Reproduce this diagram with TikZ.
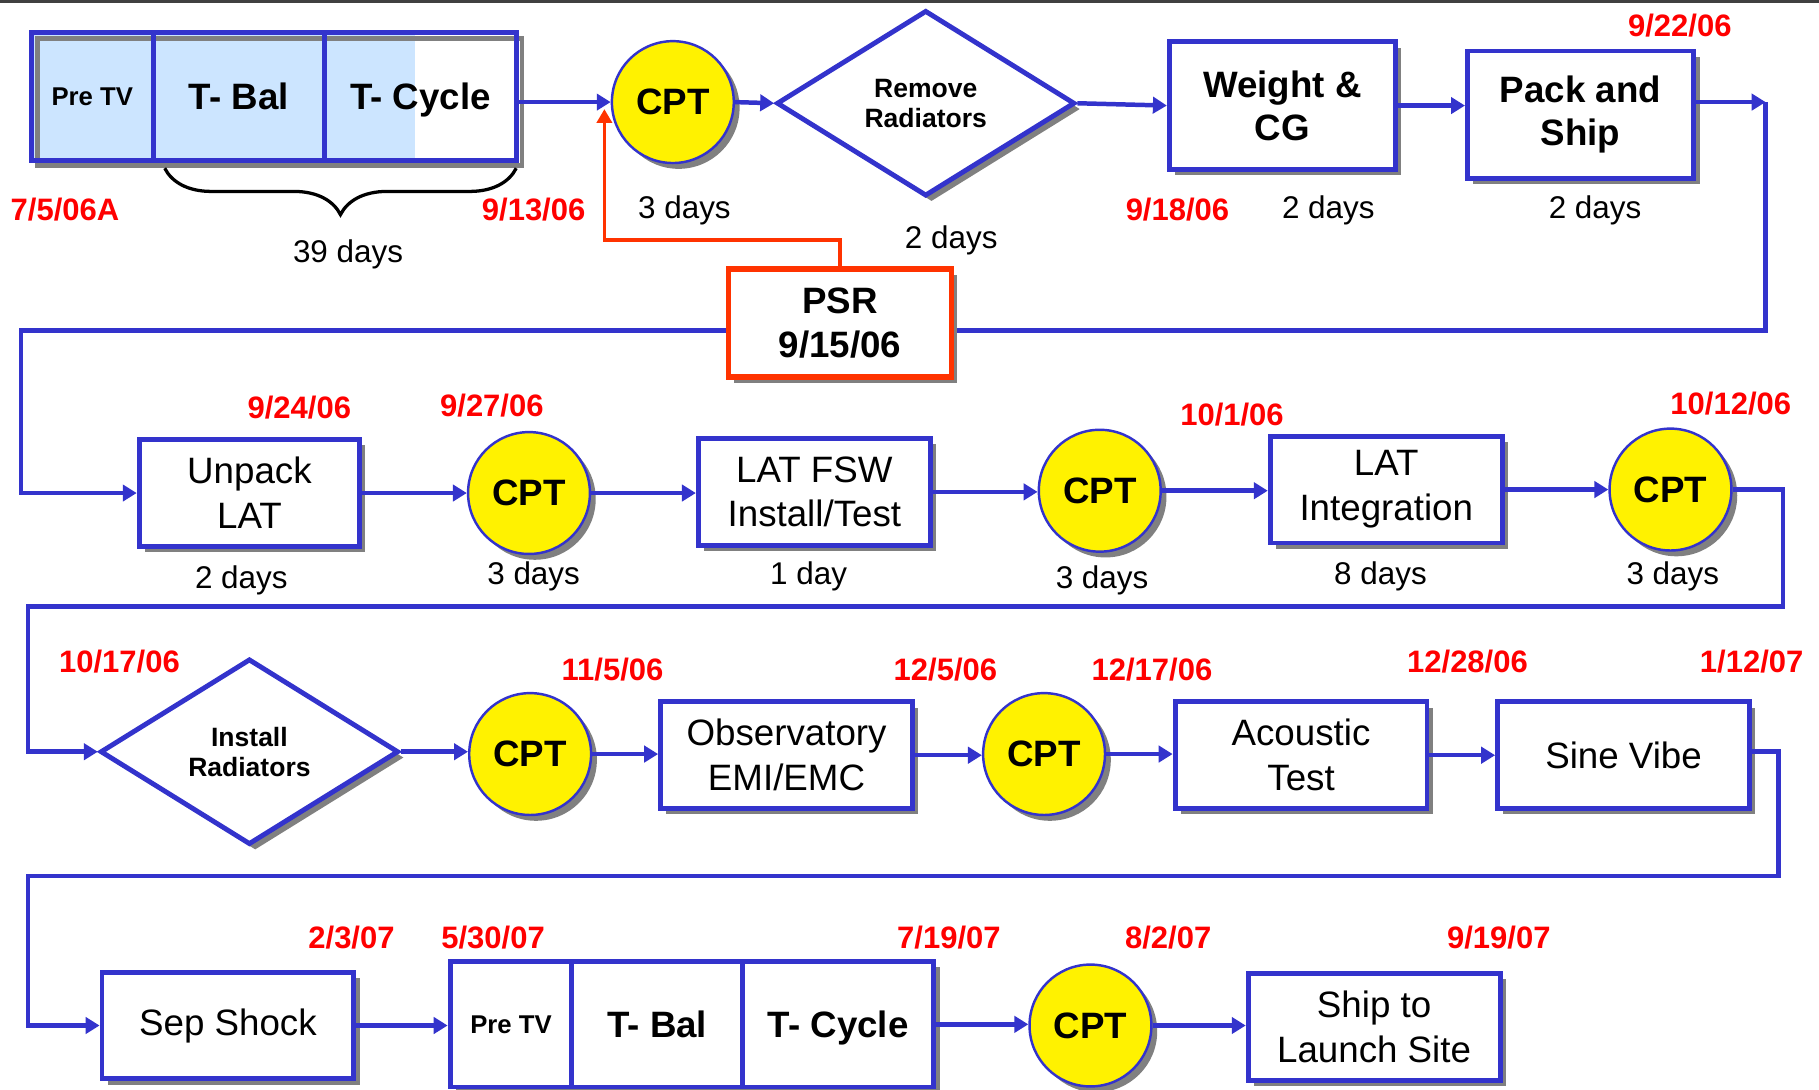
\documentclass[tikz,border=0pt]{standalone}
\usepackage{fontspec}
\setmainfont{Liberation Sans}
\usetikzlibrary{shapes.geometric,arrows.meta,shadows,decorations.pathreplacing}

\definecolor{bleu}{RGB}{51,51,204}
\definecolor{bleuclair}{RGB}{204,229,255}
\definecolor{rougepsr}{RGB}{255,51,0}
\definecolor{gris}{RGB}{128,128,128}

\tikzset{
  ombre/.style={drop shadow={shadow xshift=0.05cm, shadow yshift=-0.05cm, fill=gris, opacity=1}},
  tache/.style={draw=bleu, line width=1.2pt, fill=white, align=center, inner sep=1pt,
    minimum width=2.17cm, minimum height=0.92cm, font=\fontsize{9}{11}\selectfont, ombre},
  tachegras/.style={tache, minimum width=1.95cm, minimum height=1.1cm,
    font=\bfseries\fontsize{9}{10.6}\selectfont},
  essai/.style={draw=bleu, line width=1.2pt, minimum height=1.1cm, inner sep=0pt,
    text height=6.3pt, text depth=0pt, font=\bfseries\fontsize{9}{11}\selectfont},
  petit/.style={text height=4.6pt, font=\bfseries\fontsize{6.3}{7.5}\selectfont},
  cpt/.style={circle, draw=bleu, line width=0.6pt, fill=yellow, minimum size=1.05cm,
    inner sep=0pt, font=\bfseries\fontsize{9}{11}\selectfont, ombre},
  losange/.style={diamond, draw=bleu, line width=1.2pt, fill=white, minimum width=2.57cm,
    minimum height=1.6cm, inner sep=0pt, align=center,
    font=\bfseries\fontsize{6.5}{7.4}\selectfont, ombre},
  psrbox/.style={draw=rougepsr, line width=1.3pt, fill=white, align=center,
    minimum width=1.92cm, minimum height=0.93cm, font=\bfseries\fontsize{9}{11}\selectfont, ombre},
  fleche/.style={draw=bleu, line width=1.1pt, -{Triangle[length=0.12cm, width=0.14cm]}},
  flecherouge/.style={draw=rougepsr, line width=0.9pt, -{Triangle[length=0.12cm, width=0.13cm]}},
  date/.style={text=red, font=\bfseries\fontsize{7.6}{9}\selectfont},
  duree/.style={font=\fontsize{7.7}{9}\selectfont}
}

\begin{document}
\begin{tikzpicture}[x=0.01cm, y=-0.01cm]
  \useasboundingbox (0,0) rectangle (1568,939);
  \draw[black!75, line width=0.7pt] (0,1.5) -- (1568,1.5);

  % Ligne 1
  \fill[white] (27,28) rectangle (445,138);
  \fill[bleuclair] (27,28) rectangle (358,138);
  \draw[gris, line width=1.2pt] (32,33) rectangle (450,143);
  \node[essai, minimum width=1.05cm, petit] (pretvA) at (79.5,83) {Pre TV};
  \node[essai, minimum width=1.48cm] (tbalA) at (206,83) {T- Bal};
  \node[essai, minimum width=1.65cm] (tcycleA) at (362.5,83) {T- Cycle};
  \draw[decorate, decoration={brace, mirror, amplitude=0.4cm}, line width=0.8pt] (142,145) -- (445,145);

  \node[cpt] (cptA) at (580,88) {CPT};
  \node[losange] (retrait) at (798,89) {Remove\\Radiators};
  \node[tachegras] (pesee) at (1105.5,91) {Weight \&\\CG};
  \node[tachegras] (emballage) at (1362.5,99) {Pack and\\Ship};

  \node[date] (dA) at (56,181) {7/5/06A};
  \node[date] (dB) at (460,181) {9/13/06};
  \node[date] (dC) at (1015,181) {9/18/06};
  \node[date] (dD) at (1448,22) {9/22/06};
  \node[duree] (tA) at (300,219) {39 days};
  \node[duree] (tB) at (590,181) {3 days};
  \node[duree] (tC) at (820,207) {2 days};
  \node[duree] (tD) at (1145,181) {2 days};
  \node[duree] (tE) at (1375,181) {2 days};

  \coordinate (coin1) at (1522,88);
  \coordinate (coin2) at (1522,285);
  \coordinate (coin3) at (18,285);
  \draw[fleche] (tcycleA.east |- cptA) -- (cptA.west);
  \draw[fleche] (cptA.east) -- (retrait.west);
  \draw[fleche] (retrait.east) -- (pesee.west);
  \draw[fleche] (pesee.east) -- (pesee.east -| emballage.west);
  \draw[fleche] (emballage.east |- coin1) -- (coin1);

  % Ligne 2
  \node[tache, minimum width=1.9cm] (deballage) at (215,425) {Unpack\\LAT};
  \node[cpt] (cptB) at (456,425) {CPT};
  \node[tache, minimum width=2cm] (fsw) at (702,424) {LAT FSW\\Install/Test};
  \node[cpt] (cptC) at (948,423) {CPT};
  \node[tache, minimum width=2cm] (integ) at (1195,422) {LAT\\Integration};
  \node[cpt] (cptD) at (1440,422) {CPT};

  \draw[fleche] (coin1) -- (coin2) -- (coin3) |- (deballage.west);
  \node[psrbox] (psr) at (724,278.5) {PSR\\9/15/06};
  \coordinate (rouge1) at (521,207);
  \coordinate (rouge2) at (521,94);
  \draw[flecherouge] (psr.north) |- (rouge1) -- (rouge2);

  \node[date] (dE) at (258,351) {9/24/06};
  \node[date] (dF) at (424,350) {9/27/06};
  \node[date] (dG) at (1062,357) {10/1/06};
  \node[date] (dH) at (1492,348) {10/12/06};
  \node[duree] (tF) at (208,500) {2 days};
  \node[duree] (tG) at (460,497) {3 days};
  \node[duree] (tH) at (697,497) {1 day};
  \node[duree] (tI) at (950,500) {3 days};
  \node[duree] (tJ) at (1190,497) {8 days};
  \node[duree] (tK) at (1442,497) {3 days};

  \draw[fleche] (deballage.east) -- (deballage.east -| cptB.west);
  \draw[fleche] (cptB.east) -- (cptB.east -| fsw.west);
  \draw[fleche] (fsw.east) -- (fsw.east -| cptC.west);
  \draw[fleche] (cptC.east) -- (cptC.east -| integ.west);
  \draw[fleche] (integ.east) -- (integ.east -| cptD.west);

  % Ligne 3
  \node[losange] (pose) at (215,648) {Install\\Radiators};
  \node[cpt] (cptE) at (457,650) {CPT};
  \node[tache] (emi) at (678,651) {Observatory\\EMI/EMC};
  \node[cpt] (cptF) at (900,650) {CPT};
  \node[tache] (acous) at (1121.5,651) {Acoustic\\Test};
  \node[tache] (sinus) at (1399.5,651) {Sine Vibe};

  \coordinate (coin4) at (1537,422);
  \coordinate (coin5) at (1537,523);
  \coordinate (coin6) at (24,523);
  \draw[fleche] (cptD.east) -- (coin4) -- (coin5) -- (coin6) |- (pose.west);

  \node[date] (dI) at (103,570) {10/17/06};
  \node[date] (dJ) at (528,577) {11/5/06};
  \node[date] (dK) at (815,577) {12/5/06};
  \node[date] (dL) at (993,577) {12/17/06};
  \node[date] (dM) at (1265,570) {12/28/06};
  \node[date] (dN) at (1510,570) {1/12/07};

  \draw[fleche] (pose.east) -- (pose.east -| cptE.west);
  \draw[fleche] (cptE.east) -- (cptE.east -| emi.west);
  \draw[fleche] (emi.east) -- (emi.east -| cptF.west);
  \draw[fleche] (cptF.east) -- (cptF.east -| acous.west);
  \draw[fleche] (acous.east) -- (acous.east -| sinus.west);

  % Ligne 4
  \node[tache] (choc) at (196.5,884) {Sep Shock};
  \node[essai, fill=white, ombre, minimum width=1.05cm, minimum height=1.08cm, petit] (pretvB) at (440.5,883) {Pre TV};
  \node[essai, fill=white, ombre, minimum width=1.47cm, minimum height=1.08cm] (tbalB) at (566.5,883) {T- Bal};
  \node[essai, fill=white, ombre, minimum width=1.65cm, minimum height=1.08cm] (tcycleB) at (722.5,883) {T- Cycle};
  \node[cpt] (cptG) at (940,884) {CPT};
  \node[tache] (transport) at (1184.5,885) {Ship to\\Launch Site};

  \coordinate (coin7) at (1533,648);
  \coordinate (coin8) at (1533,755);
  \coordinate (coin9) at (24,755);
  \draw[fleche] (sinus.east |- coin7) -- (coin7) -- (coin8) -- (coin9) |- (choc.west);

  \node[date] (dO) at (303,808) {2/3/07};
  \node[date] (dP) at (425,808) {5/30/07};
  \node[date] (dQ) at (818,808) {7/19/07};
  \node[date] (dR) at (1007,808) {8/2/07};
  \node[date] (dS) at (1292,808) {9/19/07};

  \draw[fleche] (choc.east) -- (choc.east -| pretvB.west);
  \draw[fleche] (tcycleB.east) -- (tcycleB.east -| cptG.west);
  \draw[fleche] (cptG.east) -- (cptG.east -| transport.west);
\end{tikzpicture}
\end{document}
